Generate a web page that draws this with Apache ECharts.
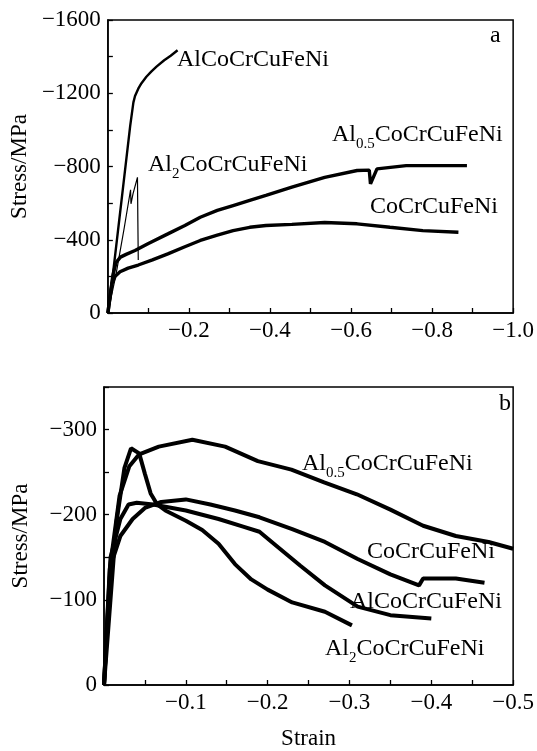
<!DOCTYPE html>
<html>
<head>
<meta charset="utf-8">
<script src="https://cdn.jsdelivr.net/npm/echarts@6/dist/echarts.min.js"></script>
<style>
html,body{margin:0;padding:0;background:#fff;}
#chart{width:537px;height:751px;}
</style>
</head>
<body>
<div id="chart"></div>
<script>
// ---------- Panel a (top) ----------
var aAlCo_strain = [0, -0.015, -0.035, -0.055, -0.063, -0.067, -0.075, -0.083, -0.095, -0.107, -0.12, -0.139, -0.155, -0.172];
var aAlCo_stress = [0, -260, -640, -1020, -1150, -1185, -1225, -1255, -1290, -1318, -1345, -1380, -1405, -1435];

var aAl2_strain = [0, -0.02, -0.04, -0.056, -0.057, -0.062, -0.073, -0.074, -0.075];
var aAl2_stress = [0, -210, -460, -673, -596, -650, -741, -500, -290];

var aAl05_strain = [0, -0.012, -0.02, -0.031, -0.045, -0.067, -0.1, -0.148, -0.19, -0.228, -0.27, -0.309, -0.35, -0.39, -0.454, -0.535, -0.615, -0.645, -0.648, -0.664, -0.736, -0.817, -0.886];
var aAl05_stress = [0, -200, -275, -305, -320, -341, -380, -432, -478, -523, -560, -587, -615, -642, -687, -741, -778, -780, -705, -787, -805, -805, -805];

var aCo_strain = [0, -0.01, -0.018, -0.03, -0.05, -0.075, -0.11, -0.148, -0.19, -0.228, -0.27, -0.309, -0.35, -0.39, -0.454, -0.535, -0.615, -0.696, -0.777, -0.865];
var aCo_stress = [0, -160, -200, -225, -245, -262, -290, -323, -362, -396, -425, -450, -468, -478, -484, -494, -487, -468, -450, -441];

// ---------- Panel b (bottom) ----------
var bAl05_strain = [0, -0.007, -0.019, -0.031, -0.043, -0.067, -0.108, -0.148, -0.188, -0.229, -0.269, -0.309, -0.35, -0.39, -0.43, -0.47, -0.5];
var bAl05_stress = [0, -136, -222, -257, -271, -280, -288, -280, -263, -253, -238, -224, -206, -187, -175, -168, -160];

var bCo_strain = [0, -0.008, -0.02, -0.035, -0.05, -0.07, -0.1, -0.13, -0.16, -0.19, -0.23, -0.27, -0.31, -0.35, -0.385, -0.39, -0.43, -0.465];
var bCo_stress = [0, -140, -175, -195, -208, -215, -218, -212, -205, -197, -183, -168, -148, -130, -117, -125, -125, -120];

var bAlCo_strain = [0, -0.008, -0.02, -0.03, -0.04, -0.06, -0.1, -0.14, -0.17, -0.19, -0.205, -0.24, -0.27, -0.31, -0.35, -0.4];
var bAlCo_stress = [0, -150, -195, -212, -214, -212, -205, -195, -186, -180, -168, -140, -117, -92, -82, -78];

var bAl2_strain = [0, -0.015, -0.025, -0.033, -0.043, -0.05, -0.057, -0.065, -0.075, -0.1, -0.12, -0.14, -0.16, -0.18, -0.2, -0.23, -0.27, -0.303];
var bAl2_stress = [0, -190, -255, -278, -272, -248, -225, -212, -205, -193, -182, -166, -142, -124, -112, -97, -86, -70];

// tick label values
var aXTicks = [-0.2, -0.4, -0.6, -0.8, -1.0];
var aYTicks = [0, -400, -800, -1200, -1600];
var bXTicks = [-0.1, -0.2, -0.3, -0.4, -0.5];
var bYTicks = [0, -100, -200, -300];

var FONT = "'Liberation Serif','Times New Roman',serif";

function zip(xs, ys) { return xs.map(function (x, i) { return [x, ys[i]]; }); }
function fmtNum(v, dec) {
  if (v === 0) return '0';
  return '\u2212' + Math.abs(v).toFixed(dec);
}
function makeFormatter(list, dec) {
  return function (v) {
    for (var i = 0; i < list.length; i++) {
      if (Math.abs(list[i] - v) < 1e-6) return fmtNum(list[i], dec);
    }
    return '';
  };
}

function xAxisCfg(gi, min, interval, ticks, dec, name) {
  return {
    type: 'value', gridIndex: gi, min: min, max: 0, interval: interval, inverse: true,
    position: 'bottom',
    axisLine: { show: true, onZero: false, lineStyle: { color: '#000', width: 1.5 } },
    axisTick: { show: true, inside: true, length: 5, lineStyle: { color: '#000', width: 1.3 } },
    axisLabel: { color: '#000', fontFamily: FONT, fontSize: 23, margin: 6, formatter: makeFormatter(ticks, dec), showMinLabel: true, showMaxLabel: true, hideOverlap: false },
    splitLine: { show: false },
    name: name || '', nameLocation: 'middle', nameGap: 42,
    nameTextStyle: { color: '#000', fontFamily: FONT, fontSize: 23 }
  };
}
function yAxisCfg(gi, min, interval, ticks) {
  return {
    type: 'value', gridIndex: gi, min: min, max: 0, interval: interval, inverse: true,
    position: 'left',
    axisLine: { show: true, onZero: false, lineStyle: { color: '#000', width: 1.5 } },
    axisTick: { show: true, inside: true, length: 5, lineStyle: { color: '#000', width: 1.3 } },
    axisLabel: { color: '#000', fontFamily: FONT, fontSize: 23, margin: 7, formatter: makeFormatter(ticks, 0), showMinLabel: true, showMaxLabel: true, hideOverlap: false },
    splitLine: { show: false },
    name: 'Stress/MPa', nameLocation: 'middle', nameGap: 72, nameRotate: 90,
    nameTextStyle: { color: '#000', fontFamily: FONT, fontSize: 23 }
  };
}
function line(xi, data, w) {
  return {
    type: 'line', xAxisIndex: xi, yAxisIndex: xi, data: data, showSymbol: false, symbol: 'none',
    lineStyle: { color: '#000', width: w }, silent: true, animation: false
  };
}

var rich = {
  n: { fontSize: 24, fontFamily: FONT, fill: '#000', color: '#000' },
  s: { fontSize: 15, fontFamily: FONT, fill: '#000', color: '#000', padding: [19, 0, 0, 0] }
};
function label(x, y, text) {
  return { type: 'text', x: x, y: y, silent: true, z: 100,
    style: { text: text, rich: rich, fill: '#000', verticalAlign: 'middle', align: 'left', font: '24px ' + FONT } };
}

var chart = echarts.init(document.getElementById('chart'), null, { renderer: 'canvas' });
chart.setOption({
  backgroundColor: '#fff',
  animation: false,
  grid: [
    { left: 106, top: 20, width: 413, height: 293, show: true, borderColor: '#000', borderWidth: 1.5, containLabel: false },
    { left: 104, top: 387, width: 414, height: 300, show: true, borderColor: '#000', borderWidth: 1.5, containLabel: false }
  ],
  xAxis: [
    xAxisCfg(0, -1, 0.1, aXTicks, 1, ''),
    xAxisCfg(1, -0.5, 0.05, bXTicks, 1, 'Strain')
  ],
  yAxis: [
    yAxisCfg(0, -1600, 200, aYTicks),
    yAxisCfg(1, -350, 50, bYTicks)
  ],
  series: [
    line(0, zip(aAlCo_strain, aAlCo_stress), 2.4),
    line(0, zip(aAl2_strain, aAl2_stress), 1.2),
    line(0, zip(aAl05_strain, aAl05_stress), 3.4),
    line(0, zip(aCo_strain, aCo_stress), 3.4),
    line(1, zip(bAl05_strain, bAl05_stress), 4),
    line(1, zip(bCo_strain, bCo_stress), 4),
    line(1, zip(bAlCo_strain, bAlCo_stress), 4),
    line(1, zip(bAl2_strain, bAl2_stress), 4)
  ],
  graphic: [
    label(177, 60, '{n|AlCoCrCuFeNi}'),
    label(148, 165, '{n|Al}{s|2}{n|CoCrCuFeNi}'),
    label(332, 135, '{n|Al}{s|0.5}{n|CoCrCuFeNi}'),
    label(370, 207, '{n|CoCrCuFeNi}'),
    label(490, 36, '{n|a}'),
    label(302, 464, '{n|Al}{s|0.5}{n|CoCrCuFeNi}'),
    label(367, 552, '{n|CoCrCuFeNi}'),
    label(350, 602, '{n|AlCoCrCuFeNi}'),
    label(325, 649, '{n|Al}{s|2}{n|CoCrCuFeNi}'),
    label(499, 404, '{n|b}')
  ]
});
</script>
</body>
</html>
